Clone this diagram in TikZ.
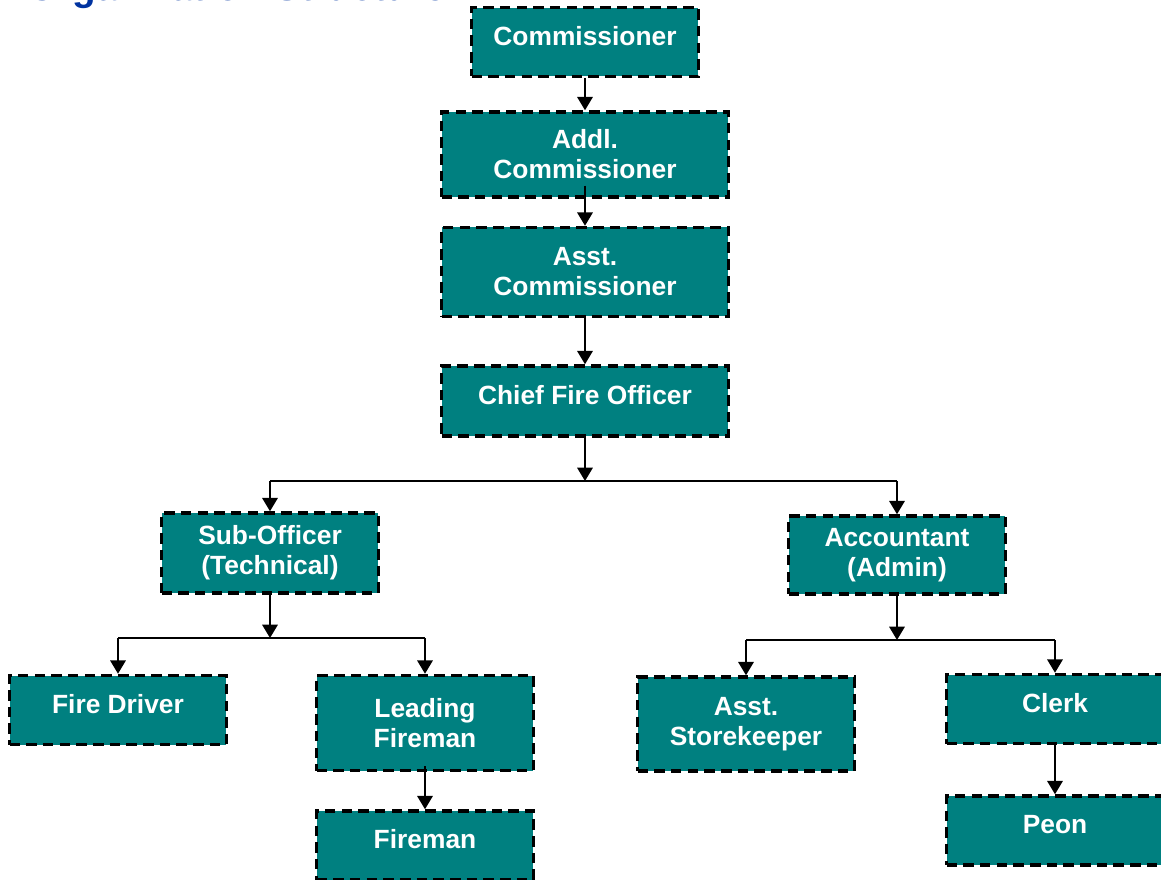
\documentclass[tikz,border=0pt]{standalone}
\usepackage{fontspec}
\setmainfont{Liberation Sans}
\usepackage{tikz}
\usetikzlibrary{positioning}
\usetikzlibrary{arrows.meta}

\definecolor{tealbox}{RGB}{0,128,128}
\definecolor{titleblue}{RGB}{0,51,160}

\begin{document}
\begin{tikzpicture}[
    x=0.02cm, y=-0.02cm,
    postbox/.style={rectangle, fill=tealbox, draw=black, line width=2pt,
        dash pattern=on 6pt off 3.5pt, text=white, font=\bfseries\fontsize{15}{17}\selectfont,
        align=center, inner sep=2pt, minimum width=4.34cm, minimum height=1.38cm},
    onebox/.style={postbox, text height=11pt, text depth=7.5pt},
    widebox/.style={postbox, minimum width=5.74cm},
    arrowline/.style={-{Triangle[length=7.6pt,width=8.8pt]}, line width=1.1pt},
    barline/.style={-, line width=1.1pt},
    node distance=0.68cm
    ]
    \useasboundingbox (0,0) rectangle (1161,880);

    %Title (cut by the page edge)
    \node[anchor=base west, inner sep=0pt, text=titleblue,
        font=\bfseries\fontsize{22}{26}\selectfont] (title) at (27,0.5) {Organization Structure};

    %Nodes
    \node[onebox, minimum width=4.54cm] (comm) at (585,42) {Commissioner};
    \node[widebox, minimum height=1.70cm] (addl) [below=0.64cm of comm] {Addl.\\Commissioner};
    \node[widebox, minimum height=1.78cm] (asst) [below=0.54cm of addl] {Asst.\\Commissioner};
    \node[onebox, widebox, minimum height=1.40cm] (chief) [below=0.92cm of asst] {Chief Fire Officer};

    \node[postbox, minimum height=1.60cm] (sub) at (270,553) {Sub-Officer\\(Technical)};
    \node[postbox, minimum height=1.56cm] (acct) at (897,555) {Accountant\\(Admin)};

    \node[onebox] (fdriver) at (118,710) {Fire Driver};
    \node[postbox, minimum height=1.90cm] (lead) at (425,723) {Leading\\Fireman};
    \node[onebox] (fireman) [below=0.74cm of lead] {Fireman};

    \node[postbox, minimum height=1.88cm] (store) at (746,724) {Asst.\\Storekeeper};
    \node[onebox] (clerk) at (1055,709) {Clerk};
    \node[onebox] (peon) [below=0.98cm of clerk] {Peon};

    %Junctions
    \coordinate (split1) at (585,481);
    \coordinate (split2) at (270,638);
    \coordinate (split3) at (897,640);

    %Lines
    \draw[arrowline] (comm) -- (addl);
    \draw[arrowline] ([yshift=0.26cm]addl.south) -- (asst);
    \draw[arrowline] (asst) -- (chief);

    \draw[arrowline] (chief) -- (split1);
    \draw[barline] (sub |- split1) -- (acct |- split1);
    \draw[arrowline] (sub |- split1) -- (sub);
    \draw[arrowline] (acct |- split1) -- (acct);

    \draw[arrowline] (sub) -- (split2);
    \draw[barline] (fdriver |- split2) -- (lead |- split2);
    \draw[arrowline] (fdriver |- split2) -- (fdriver);
    \draw[arrowline] (lead |- split2) -- (lead);
    \draw[arrowline] ([yshift=0.12cm]lead.south) -- (fireman);

    \draw[arrowline] (acct) -- (split3);
    \draw[barline] (store |- split3) -- (clerk |- split3);
    \draw[arrowline] (store |- split3) -- (store);
    \draw[arrowline] (clerk |- split3) -- (clerk);
    \draw[arrowline] (clerk) -- (peon);

\end{tikzpicture}
\end{document}
